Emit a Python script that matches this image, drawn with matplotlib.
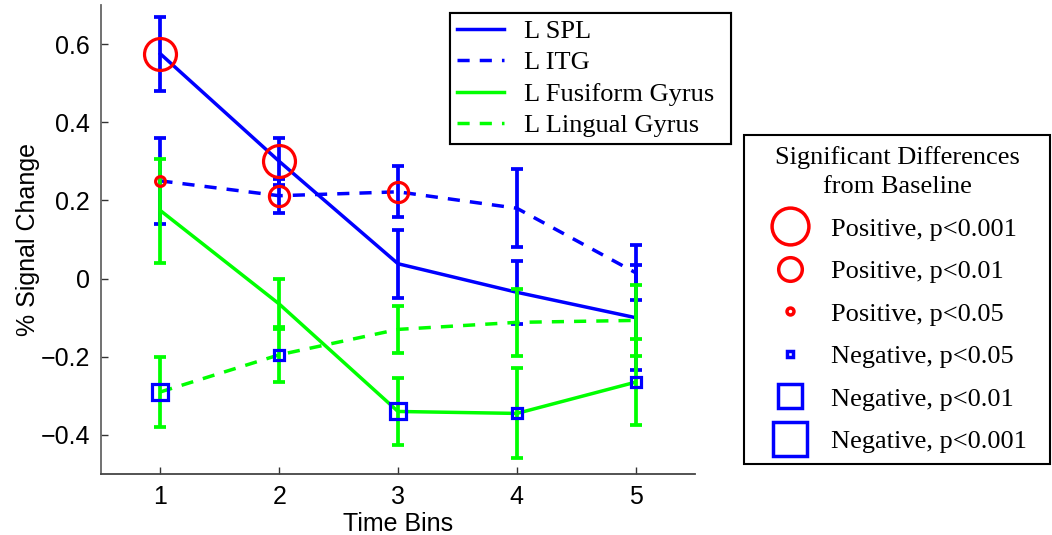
import matplotlib
matplotlib.use('Agg')
import matplotlib.pyplot as plt
from matplotlib.lines import Line2D

# datos
time_bins = [1, 2, 3, 4, 5]

spl = [0.575, 0.30, 0.038, -0.035, -0.10]
spl_err = [0.095, 0.06, 0.087, 0.08, 0.134]
itg = [0.25, 0.212, 0.222, 0.18, 0.015]
itg_err = [0.11, 0.044, 0.065, 0.10, 0.07]
fusiform = [0.174, -0.065, -0.34, -0.345, -0.265]
fusiform_err = [0.133, 0.065, 0.085, 0.115, 0.11]
lingual = [-0.29, -0.195, -0.13, -0.112, -0.107]
lingual_err = [0.09, 0.07, 0.06, 0.085, 0.09]

# significancia: +3 pos p<0.001, +2 pos p<0.01, +1 pos p<0.05, -1/-2/-3 negativos
spl_sig = [3, 3, 0, 0, 0]
itg_sig = [1, 2, 2, 0, 0]
fusiform_sig = [0, 0, -2, -1, -1]
lingual_sig = [-2, -1, 0, 0, 0]

sig_labels = {3: 'Positive, p<0.001', 2: 'Positive, p<0.01', 1: 'Positive, p<0.05',
              -1: 'Negative, p<0.05', -2: 'Negative, p<0.01', -3: 'Negative, p<0.001'}
legend_order = [3, 2, 1, -1, -2, -3]

# tamaños de marcadores (pt)
plot_size = {3: 23, 2: 14.5, 1: 7, -1: 6.5, -2: 12, -3: 17}
legend_size = {3: 26.5, 2: 17, 1: 5, -1: 5, -2: 17, -3: 24.5}

blue = '#0000ff'
green = '#00ff00'
red = '#ff0000'

sans = 'Liberation Sans'
serif = 'Liberation Serif'

fig = plt.figure(figsize=(10.52, 5.35), dpi=100)
ax = fig.add_axes([101 / 1052, 1 - 474 / 535, (695 - 101) / 1052, (474 - 5) / 535])

series = [
    ('L SPL', spl, spl_err, spl_sig, blue, '-'),
    ('L ITG', itg, itg_err, itg_sig, blue, '--'),
    ('L Fusiform Gyrus', fusiform, fusiform_err, fusiform_sig, green, '-'),
    ('L Lingual Gyrus', lingual, lingual_err, lingual_sig, green, '--'),
]

line_handles = []
for name, vals, errs, sig, col, ls in series:
    ax.errorbar(time_bins, vals, yerr=errs, fmt='none', ecolor=col, elinewidth=2.7,
                capsize=4, capthick=2.7, zorder=2)
    h, = ax.plot(time_bins, vals, color=col, lw=2.5, zorder=2)
    if ls == '--':
        h.set_dashes((3.5, 2.9))
    line_handles.append(h)

# marcadores de significancia
for name, vals, errs, sig, col, ls in series:
    for xb, v, s in zip(time_bins, vals, sig):
        if s == 0:
            continue
        if s > 0:
            ax.plot(xb, v, 'o', ms=plot_size[s], mfc='none', mec=red, mew=2.3, zorder=4)
        else:
            ax.plot(xb, v, 's', ms=plot_size[s], mfc='none', mec=blue, mew=2.3, zorder=4)

ax.set_xlim(0.5, 5.5)
ax.set_ylim(-0.5, 0.7)
ax.set_xticks(time_bins)
ax.set_yticks([-0.4, -0.2, 0, 0.2, 0.4, 0.6])
ax.set_yticklabels(['\u22120.4', '\u22120.2', '0', '0.2', '0.4', '0.6'])
ax.tick_params(direction='in', length=5, width=1, labelsize=18, colors='#333333',
               labelcolor='black', pad=8)
for lab in ax.get_xticklabels() + ax.get_yticklabels():
    lab.set_family(sans)
ax.spines['top'].set_visible(False)
ax.spines['right'].set_visible(False)
ax.spines['left'].set_color('#666666')
ax.spines['bottom'].set_color('#444444')
ax.spines['left'].set_linewidth(1.3)
ax.spines['bottom'].set_linewidth(1.3)
ax.set_xlabel('Time Bins', fontsize=18, family=sans, labelpad=2)
ax.set_ylabel('% Signal Change', fontsize=18, family=sans, labelpad=0)

# leyenda de regiones
leg1 = ax.legend(line_handles, [s[0] for s in series], loc='upper left', mode='expand',
                 bbox_to_anchor=(450 / 1052, 1 - 143 / 535, 281 / 1052, 130 / 535),
                 bbox_transform=fig.transFigure,
                 prop={'family': serif, 'size': 19}, frameon=True, fancybox=False,
                 edgecolor='black', framealpha=1, borderaxespad=0, borderpad=0.25,
                 labelspacing=0.3, handlelength=1.8, handletextpad=0.75)
leg1.get_frame().set_linewidth(1.5)
ax.add_artist(leg1)

# leyenda de significancia
sig_handles = []
for s in legend_order:
    if s > 0:
        sig_handles.append(Line2D([], [], ls='none', marker='o', ms=legend_size[s],
                                  mfc='none', mec=red, mew=2.5))
    else:
        sig_handles.append(Line2D([], [], ls='none', marker='s', ms=legend_size[s],
                                  mfc='none', mec=blue, mew=2.5))
leg2 = fig.legend(sig_handles, [sig_labels[s] for s in legend_order], loc='upper left',
                  mode='expand',
                  bbox_to_anchor=(744 / 1052, 1 - 472 / 535, 306 / 1052, 337 / 535),
                  title='Significant Differences\nfrom Baseline',
                  prop={'family': serif, 'size': 19},
                  title_fontproperties={'family': serif, 'size': 19},
                  frameon=True, fancybox=False, edgecolor='black', framealpha=1,
                  borderaxespad=0, borderpad=0.4, labelspacing=0.72,
                  handlelength=2.65, handletextpad=0.25)
leg2.get_frame().set_linewidth(1.5)
leg2.get_title().set_multialignment('center')
leg2.get_title().set_linespacing(1.45)

fig.savefig('out.png', dpi=100)
